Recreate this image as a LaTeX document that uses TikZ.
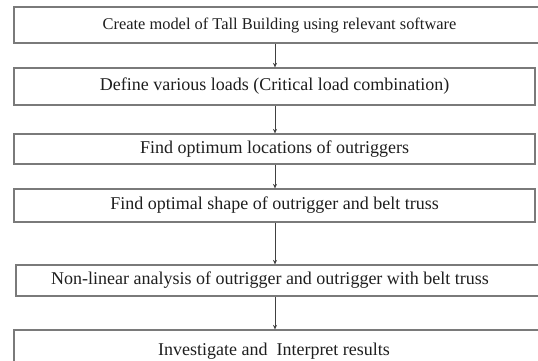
\documentclass[tikz,border=0pt]{standalone}
\usepackage{fontspec}
\setmainfont{Liberation Serif}
\usetikzlibrary{arrows.meta}
\definecolor{frame}{HTML}{7A7A7A}
\definecolor{ink}{HTML}{1E1E1E}
\tikzset{
  stepbox/.style={draw=frame, line width=1.2pt, rectangle, inner sep=0pt,
    text=ink, font=\fontsize{18}{20}\selectfont},
  flow/.style={draw=ink!85, line width=0.8pt, -{Stealth[length=4.5pt,width=4pt]}}
}
\begin{document}
\begin{tikzpicture}[x=1pt,y=-1pt]
  \useasboundingbox (0,0) rectangle (538,360);
  \clip (0,0) rectangle (538,360);
  \coordinate (axis) at (275,0);
  % process steps, top to bottom
  \node[stepbox, minimum width=531pt, minimum height=36pt,
        font=\fontsize{16.4}{18}\selectfont] (s1) at (279.5,25) {Create model of Tall Building using relevant software};
  \node[stepbox, minimum width=521pt, minimum height=37pt] (s2) at (274.5,86.5) {Define various loads (Critical load combination)};
  \node[stepbox, minimum width=521pt, minimum height=30pt] (s3) at (274.5,149) {Find optimum locations of outriggers};
  \node[stepbox, minimum width=521pt, minimum height=33pt] (s4) at (274.5,205.5) {Find optimal shape of outrigger and belt truss};
  \node[stepbox, minimum width=529pt, minimum height=31pt] (s5) at (280.5,280.5) {\hspace*{-21pt}Non-linear analysis of outrigger and outrigger with belt truss};
  \node[stepbox, minimum width=531pt, minimum height=40pt,
        text depth=0pt] (s6) at (279.5,350) {\hspace*{-11pt}\raisebox{2pt}{Investigate and\ \ Interpret results}};
  % connectors
  \draw[flow] (s1.south -| axis) -- (s2.north -| axis);
  \draw[flow] (s2.south -| axis) -- (s3.north -| axis);
  \draw[flow] (s3.south -| axis) -- (s4.north -| axis);
  \draw[flow] (s4.south -| axis) -- (s5.north -| axis);
  \draw[flow] (s5.south -| axis) -- (s6.north -| axis);
\end{tikzpicture}
\end{document}
